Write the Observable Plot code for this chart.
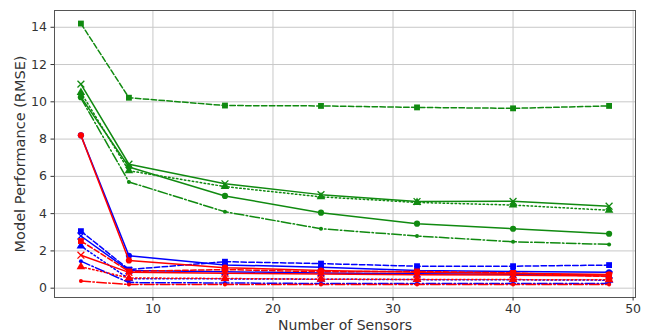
<!DOCTYPE html>
<html>
<head>
<meta charset="utf-8">
<script src="https://cdn.jsdelivr.net/npm/d3@7"></script>
<script src="https://cdn.jsdelivr.net/npm/@observablehq/plot@0.6"></script>
<style>
  html, body { margin: 0; padding: 0; background: #fff; }
  #chart { width: 651px; height: 334px; }
</style>
</head>
<body>
<div id="chart"></div>
<script>
// ---- data ----
const sensors = [4, 8, 16, 24, 32, 40, 48];

const greenSquare   = [14.2, 10.22, 9.8, 9.78, 9.7, 9.65, 9.78];
const greenX        = [10.95, 6.65, 5.6, 5.02, 4.65, 4.66, 4.4];
const greenTriangle = [10.5, 6.3, 5.45, 4.9, 4.6, 4.46, 4.18];
const greenCircle   = [10.25, 6.5, 4.95, 4.05, 3.46, 3.19, 2.92];
const greenPoint    = [10.2, 5.7, 4.1, 3.19, 2.8, 2.49, 2.35];

const blueSquare   = [3.06, 1.0, 1.42, 1.32, 1.18, 1.18, 1.24];
const blueX        = [2.8, 0.95, 0.88, 0.82, 0.78, 0.75, 0.72];
const blueTriangle = [2.26, 0.5, 0.5, 0.48, 0.46, 0.45, 0.43];
const blueCircle   = [8.2, 1.74, 1.25, 1.12, 0.95, 0.9, 0.85];
const bluePoint    = [1.45, 0.3, 0.28, 0.25, 0.25, 0.25, 0.25];

const redSquare   = [2.53, 0.9, 1.0, 0.88, 0.9, 0.82, 0.62];
const redX        = [1.77, 0.85, 0.8, 0.76, 0.72, 0.7, 0.66];
const redTriangle = [1.15, 0.55, 0.52, 0.48, 0.47, 0.46, 0.45];
const redCircle   = [8.2, 1.49, 1.1, 0.95, 0.85, 0.8, 0.74];
const redPoint    = [0.38, 0.2, 0.2, 0.2, 0.2, 0.2, 0.2];

const xTicks = [10, 20, 30, 40, 50];
const yTicks = [0, 2, 4, 6, 8, 10, 12, 14];

// ---- series definitions (data + style keys) ----
const series = [
  {name: "greenSquare",   values: greenSquare,   color: "green", style: "square"},
  {name: "greenX",        values: greenX,        color: "green", style: "x"},
  {name: "greenTriangle", values: greenTriangle, color: "green", style: "triangle"},
  {name: "greenCircle",   values: greenCircle,   color: "green", style: "circle"},
  {name: "greenPoint",    values: greenPoint,    color: "green", style: "point"},
  {name: "blueSquare",    values: blueSquare,    color: "blue",  style: "square"},
  {name: "blueX",         values: blueX,         color: "blue",  style: "x"},
  {name: "blueTriangle",  values: blueTriangle,  color: "blue",  style: "triangle"},
  {name: "bluePoint",     values: bluePoint,     color: "blue",  style: "point"},
  {name: "blueCircle",    values: blueCircle,    color: "blue",  style: "circle"},
  {name: "redSquare",     values: redSquare,     color: "red",   style: "square"},
  {name: "redX",          values: redX,          color: "red",   style: "x"},
  {name: "redTriangle",   values: redTriangle,   color: "red",   style: "triangle"},
  {name: "redPoint",      values: redPoint,      color: "red",   style: "point"},
  {name: "redCircle",     values: redCircle,     color: "red",   style: "circle"}
];

const colors = {green: "#108a10", blue: "#0000ff", red: "#ff0000"};
const styles = {
  square:   {dash: "5.5,2.4",          symbol: "square",   r: 3.3, filled: true},
  x:        {dash: null,               symbol: "times",    r: 3.2, filled: false},
  triangle: {dash: "1.5,2.5",          symbol: "triangle", r: 3.2, filled: true},
  circle:   {dash: null,               symbol: "circle",   r: 3.1, filled: true},
  point:    {dash: "9.6,2.4,1.5,2.4",  symbol: "circle",   r: 2.0, filled: true}
};

const marks = [
  Plot.gridX(xTicks, {stroke: "#c8c8c8", strokeOpacity: 1, strokeWidth: 1}),
  Plot.gridY(yTicks, {stroke: "#c8c8c8", strokeOpacity: 1, strokeWidth: 1})
];

for (const s of series) {
  const rows = sensors.map((x, i) => ({x, y: s.values[i], series: s.name}));
  const st = styles[s.style];
  const c = colors[s.color];
  marks.push(Plot.line(rows, {
    x: "x", y: "y", stroke: c, strokeWidth: 1.5,
    strokeDasharray: st.dash || undefined
  }));
  marks.push(Plot.dot(rows, st.filled
    ? {x: "x", y: "y", symbol: st.symbol, r: st.r, fill: c, stroke: "none"}
    : {x: "x", y: "y", symbol: st.symbol, r: st.r, stroke: c, strokeWidth: 1.3, fill: "none"}));
}

marks.push(Plot.frame({stroke: "#555", strokeWidth: 1}));
marks.push(Plot.axisX(xTicks, {
  tickSize: 3.5, tickPadding: 3, fontSize: 12.5,
  label: null
}));
marks.push(Plot.axisX({
  ticks: [], tickSize: 0,
  label: "Number of Sensors", labelAnchor: "center", labelArrow: "none", labelOffset: 32, fontSize: 14
}));
marks.push(Plot.axisY(yTicks, {
  tickSize: 3.5, tickPadding: 4, fontSize: 12.5,
  label: null
}));
marks.push(Plot.axisY({
  ticks: [], tickSize: 0,
  label: "Model Performance (RMSE)", labelAnchor: "center", labelArrow: "none", labelOffset: 40, fontSize: 14.5
}));

const chart = Plot.plot({
  width: 651,
  height: 334,
  marginLeft: 54,
  marginRight: 16,
  marginTop: 10,
  marginBottom: 37,
  style: {fontFamily: "DejaVu Sans, sans-serif", fontSize: "13px", color: "#333", background: "#fff"},
  x: {domain: [1.8, 50.2]},
  y: {domain: [-0.5, 14.9]},
  marks
});
document.getElementById("chart").appendChild(chart);
</script>
</body>
</html>
